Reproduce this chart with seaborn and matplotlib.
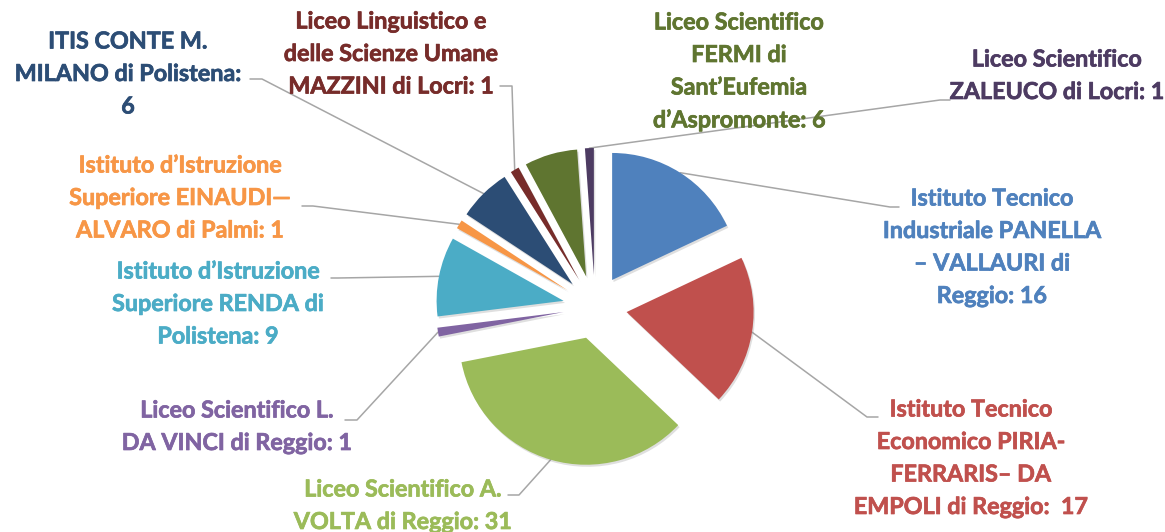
import numpy as np
import matplotlib.pyplot as plt
import matplotlib.patheffects as pe
import seaborn as sns

sns.set_theme(style="white")
plt.rcParams['font.family'] = ['Lato', 'DejaVu Sans']

# Data: students per school (clockwise from 12 o'clock)
schools = [
    ["Istituto Tecnico", "Industriale PANELLA", "\u2013 VALLAURI di", "Reggio: 16"],
    ["Istituto Tecnico", "Economico PIRIA-", "FERRARIS\u2013 DA", "EMPOLI di Reggio:  17"],
    ["Liceo Scientifico A.", "VOLTA di Reggio: 31"],
    ["Liceo Scientifico L.", "DA VINCI di Reggio: 1"],
    ["Istituto d\u2019Istruzione", "Superiore RENDA di", "Polistena: 9"],
    ["Istituto d\u2019Istruzione", "Superiore EINAUDI\u2014", "ALVARO di Palmi: 1"],
    ["ITIS CONTE M.", "MILANO di Polistena:", "6"],
    ["Liceo Linguistico e", "delle Scienze Umane", "MAZZINI di Locri: 1"],
    ["Liceo Scientifico", "FERMI di", "Sant\u2019Eufemia", "d\u2019Aspromonte: 6"],
    ["Liceo Scientifico", "ZALEUCO di Locri: 1"],
]
students = [16, 17, 31, 1, 9, 1, 6, 1, 6, 1]

colours = ["#4F81BD", "#C0504D", "#9BBB59", "#8064A2", "#4BACC6",
           "#F79646", "#2C4D75", "#772C2A", "#5F7530", "#4D3B62"]

# Layout (pixel coords): label centre x, first line y, and leader elbow points
label_x = [992, 971, 403, 237, 218, 180, 128, 391, 739, 1057]
label_y = [199, 410, 490, 411, 272, 166, 42, 22, 23, 60]
line_gap = 32.5
leader = [
    [(899, 207), (890, 207)],
    [(878, 417), (867, 417)],
    [(508, 495), (519, 495)],
    [(345, 420), (357, 420)],
    [(331, 278), (338, 278)],
    [(302, 206), (313, 206)],
    [(250, 79), (262, 79)],
    [(500, 86), (512, 86)],
    None,
    [(950, 100), (940, 100)],
]

fig = plt.figure(figsize=(11.65, 5.32), dpi=100)
ax = fig.add_axes([0, 0, 1, 1])

# explode is in data units here (pixels), ~1/4 of the radius
wedges, _ = ax.pie(students, colors=colours, radius=127, center=(595, 307),
                   explode=[32] * len(students), startangle=270,
                   counterclock=True, frame=True,
                   wedgeprops=dict(linewidth=0))
for w in wedges:
    w.set_path_effects([pe.SimplePatchShadow(offset=(1, -1.5), shadow_rgbFace="#808080", alpha=0.25),
                        pe.Normal()])

ax.set_xlim(0, 1165)
ax.set_ylim(532, 0)
ax.set_aspect("equal")
ax.axis("off")

for w, lines, col, x, y, ld in zip(wedges, schools, colours, label_x, label_y, leader):
    for i, txt in enumerate(lines):
        ax.text(x, y + i * line_gap, txt, ha="center", va="center", color=col,
                fontsize=16.8, fontweight="bold",
                path_effects=[pe.withStroke(linewidth=0.5, foreground=col)])
    if ld is None:
        continue
    mid = np.deg2rad((w.theta1 + w.theta2) / 2)
    edge = (w.center[0] + w.r * np.cos(mid), w.center[1] + w.r * np.sin(mid))
    xs = [ld[0][0], ld[1][0], edge[0]]
    ys = [ld[0][1], ld[1][1], edge[1]]
    ax.plot(xs, ys, color="#A6A6A6", linewidth=1.1, zorder=0.5)

plt.savefig("out.png", dpi=100)
